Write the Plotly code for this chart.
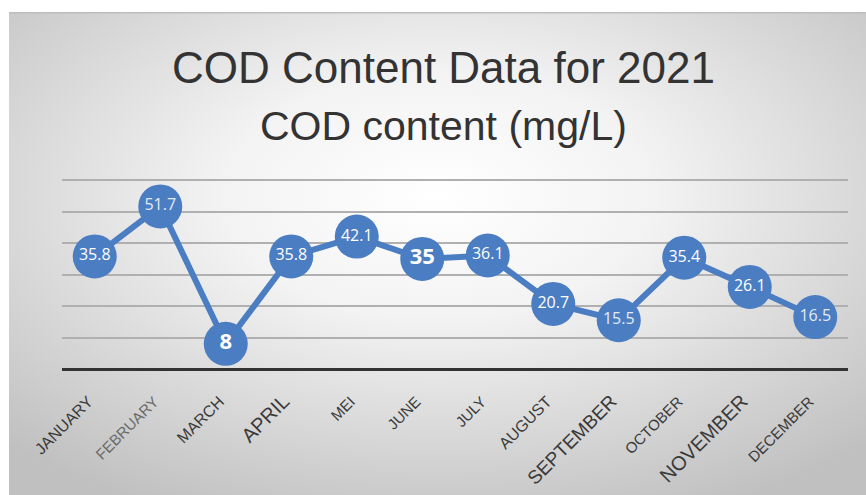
import base64
import plotly.graph_objects as go

months = ["JANUARY", "FEBRUARY", "MARCH", "APRIL", "MEI", "JUNE", "JULY",
          "AUGUST", "SEPTEMBER", "OCTOBER", "NOVEMBER", "DECEMBER"]
cod_values = [35.8, 51.7, 8, 35.8, 42.1, 35, 36.1, 20.7, 15.5, 35.4, 26.1, 16.5]
value_labels = ["35.8", "51.7", "8", "35.8", "42.1", "35", "36.1", "20.7", "15.5", "35.4", "26.1", "16.5"]
grid_values = [0, 10, 20, 30, 40, 50, 60]
title_text = "COD Content Data for 2021"
subtitle_text = "COD content (mg/L)"

# styling lists (not data)
label_sizes = [16, 16, 22, 16, 16, 22, 16, 16, 16, 16, 16, 16]
label_bold = [False, False, True, False, False, True, False, False, False, False, False, False]
label_colors = ["#ffffff", "#e4ebf5", "#ffffff", "#ffffff", "#ffffff", "#ffffff", "#ffffff",
                "#ffffff", "#e4ebf5", "#ffffff", "#ffffff", "#e4ebf5"]
tick_sizes = [16, 15, 16, 20, 15, 15, 15, 16, 19, 15, 20, 15]
tick_colors = ["#3a3a3a", "#6a6a6a", "#3a3a3a", "#3a3a3a", "#3a3a3a", "#3a3a3a", "#3a3a3a",
               "#3a3a3a", "#3a3a3a", "#3a3a3a", "#3a3a3a", "#3a3a3a"]

BLUE = "#4A7DC2"

texts = [f"<b>{t}</b>" if b else t for t, b in zip(value_labels, label_bold)]
ticktext = [f'<span style="font-size:{s}px;color:{c}">{m}</span>'
            for m, s, c in zip(months, tick_sizes, tick_colors)]

svg = ('<svg xmlns="http://www.w3.org/2000/svg" width="857" height="483" viewBox="0 0 857 483" '
       'preserveAspectRatio="none">'
       '<defs><radialGradient id="g" cx="0.5" cy="0.38" r="0.72">'
       '<stop offset="0" stop-color="#ffffff"/>'
       '<stop offset="0.35" stop-color="#f3f3f3"/>'
       '<stop offset="1" stop-color="#c0c0c0"/>'
       '</radialGradient></defs>'
       '<rect x="0" y="0" width="857" height="483" fill="url(#g)"/>'
       '<rect x="0" y="0" width="857" height="1.5" fill="#bdbdbd"/>'
       '</svg>')
svg_uri = "data:image/svg+xml;base64," + base64.b64encode(svg.encode()).decode()

fig = go.Figure()
fig.add_trace(go.Scatter(
    x=months, y=cod_values, mode="lines+markers+text",
    line=dict(color=BLUE, width=6),
    marker=dict(size=44, color=BLUE, line=dict(width=0)),
    text=texts, textposition="middle center",
    textfont=dict(family="Open Sans", size=label_sizes, color=label_colors),
    cliponaxis=False, hoverinfo="skip", showlegend=False,
))

W, H = 866, 495
L, R, T, B = 62, 18, 174, 126
pw, ph = W - L - R, H - T - B
left_px, top_px = 9, 12
fig.add_layout_image(dict(
    source=svg_uri, xref="paper", yref="paper",
    x=(left_px - L) / pw, y=(H - B - top_px) / ph,
    sizex=(W - left_px) / pw, sizey=(H - top_px) / ph,
    xanchor="left", yanchor="top", sizing="stretch", layer="below",
))

fig.add_annotation(text=title_text, xref="paper", yref="paper",
                   x=(443 - L) / pw, y=(H - B - 68) / ph, xanchor="center", yanchor="middle",
                   showarrow=False, font=dict(family="Liberation Sans", size=44, color="#333333"))
fig.add_annotation(text=subtitle_text, xref="paper", yref="paper",
                   x=(443 - L) / pw, y=(H - B - 126) / ph, xanchor="center", yanchor="middle",
                   showarrow=False, font=dict(family="Liberation Sans", size=41, color="#333333"))

fig.update_layout(
    width=W, height=H, margin=dict(l=L, r=R, t=T, b=B, autoexpand=False),
    paper_bgcolor="#ffffff", plot_bgcolor="rgba(0,0,0,0)",
    xaxis=dict(type="category", range=[-0.5, 11.5], showgrid=False, zeroline=False,
               showline=False, tickmode="array", tickvals=months, ticktext=ticktext,
               tickangle=-45, ticks="", ticklabelstandoff=20, ticklabelshift=-6,
               automargin=False,
               tickfont=dict(family="Liberation Sans", size=15, color="#3a3a3a")),
    yaxis=dict(range=[0, 62], tickmode="array", tickvals=grid_values,
               showticklabels=False, showgrid=True,
               gridcolor="#b0b0b0", gridwidth=1.5, zeroline=True, automargin=False,
               zerolinecolor="#333333", zerolinewidth=3, fixedrange=True),
)

fig.write_html("out.html")
